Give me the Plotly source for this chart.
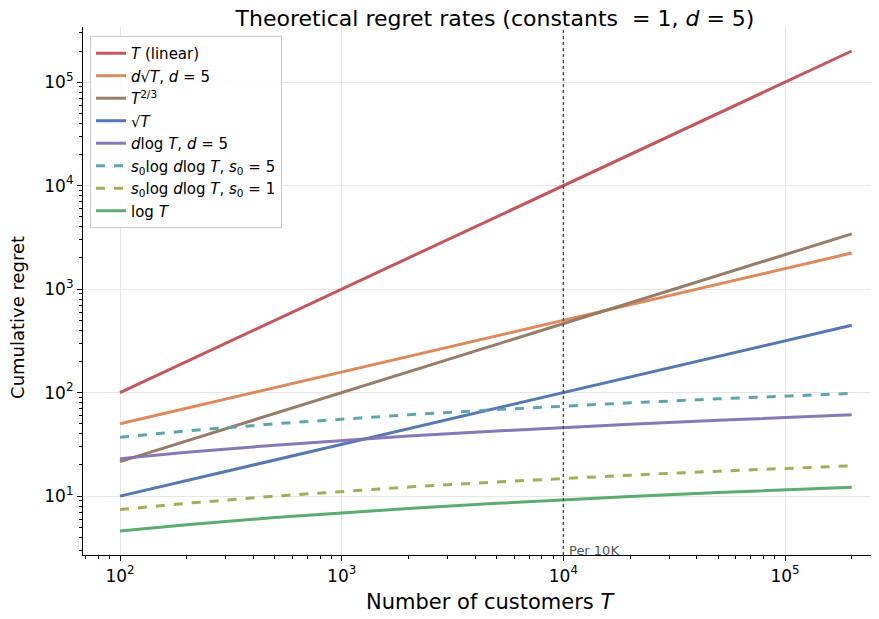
import plotly.graph_objects as go

T = [100, 200, 500, 1000, 2000, 5000, 10000, 20000, 50000, 100000, 200000]
linear = [100, 200, 500, 1000, 2000, 5000, 10000, 20000, 50000, 100000, 200000]
d_sqrt = [50, 70.7, 111.8, 158.1, 223.6, 353.6, 500, 707.1, 1118, 1581, 2236]
t_23 = [21.54, 34.20, 63.0, 100, 158.7, 292.4, 464.2, 736.8, 1357.2, 2154.4, 3420.0]
sqrt_t = [10, 14.14, 22.36, 31.62, 44.72, 70.71, 100, 141.4, 223.6, 316.2, 447.2]
d_log = [23.03, 26.49, 31.07, 34.54, 38.00, 42.59, 46.05, 49.52, 54.10, 57.56, 61.03]
s5_log = [37.06, 42.63, 50.01, 55.59, 61.16, 68.54, 74.11, 79.69, 87.07, 92.65, 98.22]
s1_log = [7.41, 8.53, 10.00, 11.12, 12.23, 13.71, 14.82, 15.94, 17.41, 18.53, 19.64]
log_t = [4.61, 5.30, 6.21, 6.91, 7.60, 8.52, 9.21, 9.90, 10.82, 11.51, 12.21]

names = [
    "<i>T</i> (linear)",
    "<i>d</i>√<i>T</i>, <i>d</i> = 5",
    "<i>T</i><sup>2/3</sup>",
    "√<i>T</i>",
    "<i>d</i>log <i>T</i>, <i>d</i> = 5",
    "<i>s</i><sub>0</sub>log <i>d</i>log <i>T</i>, <i>s</i><sub>0</sub> = 5",
    "<i>s</i><sub>0</sub>log <i>d</i>log <i>T</i>, <i>s</i><sub>0</sub> = 1",
    "log <i>T</i>",
]
series = [linear, d_sqrt, t_23, sqrt_t, d_log, s5_log, s1_log, log_t]
colors = ["#C44E52", "#DD8452", "#937860", "#4C72B0", "#8172B3",
          "#55A3A8", "#9DAB4E", "#55A868"]
dashes = ["solid"] * 5 + ["dash", "dash", "solid"]

xtick_vals = [100, 1000, 10000, 100000]
xtick_text = ["10<sup>2</sup>", "10<sup>3</sup>", "10<sup>4</sup>", "10<sup>5</sup>"]
ytick_vals = [10, 100, 1000, 10000, 100000]
ytick_text = ["10<sup>1</sup>", "10<sup>2</sup>", "10<sup>3</sup>", "10<sup>4</sup>", "10<sup>5</sup>"]

minor_x = [m * 10 ** k for k in range(1, 6) for m in range(2, 10)]
minor_y = [m * 10 ** k for k in range(0, 6) for m in range(2, 10)]

fig = go.Figure()
for n, s, c, d in zip(names, series, colors, dashes):
    fig.add_trace(go.Scatter(x=T, y=s, mode="lines", name=n,
                             line=dict(color=c, width=3, dash=d), opacity=0.95))

fig.add_vline(x=10000, line=dict(color="#444444", width=1.3, dash="dot"))
fig.add_annotation(x=4.0, y=0.0, xref="x", yref="paper", text="Per 10K",
                   showarrow=False, xanchor="left", yanchor="bottom",
                   xshift=4, yshift=-5,
                   font=dict(size=13, color="#555555"))
fig.add_annotation(x=0.507, y=0, xref="paper", yref="paper",
                   text="Number of customers <i>T</i>", showarrow=False,
                   xanchor="center", yanchor="middle", yshift=-47,
                   font=dict(size=21))
fig.add_annotation(x=0, y=0.449, xref="paper", yref="paper",
                   text="Cumulative regret", showarrow=False, textangle=-90,
                   xanchor="center", yanchor="middle", xshift=-65,
                   font=dict(size=18))

fig.update_layout(
    width=879, height=619,
    margin=dict(l=75, r=0, t=19, b=72),
    paper_bgcolor="white", plot_bgcolor="white",
    font=dict(family="DejaVu Sans", color="black"),
    title=dict(text="Theoretical regret rates (constants  = 1, <i>d</i> = 5)",
               x=0.554, xanchor="center", y=0.984, yanchor="middle",
               font=dict(size=22)),
    showlegend=True,
    legend=dict(x=0.0087, y=0.983, xanchor="left", yanchor="top",
                bgcolor="rgba(255,255,255,0.85)", bordercolor="#cccccc",
                borderwidth=1, font=dict(size=15), tracegroupgap=0,
                itemwidth=30),
)
fig.update_xaxes(
    type="log", range=[1.833, 5.460],
    tickvals=xtick_vals, ticktext=xtick_text,
    showgrid=True, gridcolor="#e6e6e6", gridwidth=1,
    showline=True, linecolor="black", linewidth=1.2,
    ticks="outside", ticklen=5, tickcolor="black",
    tickfont=dict(size=17),
    minor=dict(ticks="outside", ticklen=3, tickcolor="black", showgrid=False,
               tickmode="array", tickvals=minor_x),
    zeroline=False,
)
fig.update_yaxes(
    type="log", range=[0.431, 5.533],
    tickvals=ytick_vals, ticktext=ytick_text,
    showgrid=True, gridcolor="#e6e6e6", gridwidth=1,
    showline=True, linecolor="black", linewidth=1.2,
    ticks="outside", ticklen=5, tickcolor="black",
    tickfont=dict(size=17),
    minor=dict(ticks="outside", ticklen=3, tickcolor="black", showgrid=False,
               tickmode="array", tickvals=minor_y),
    zeroline=False,
)

fig.write_html("out.html")
